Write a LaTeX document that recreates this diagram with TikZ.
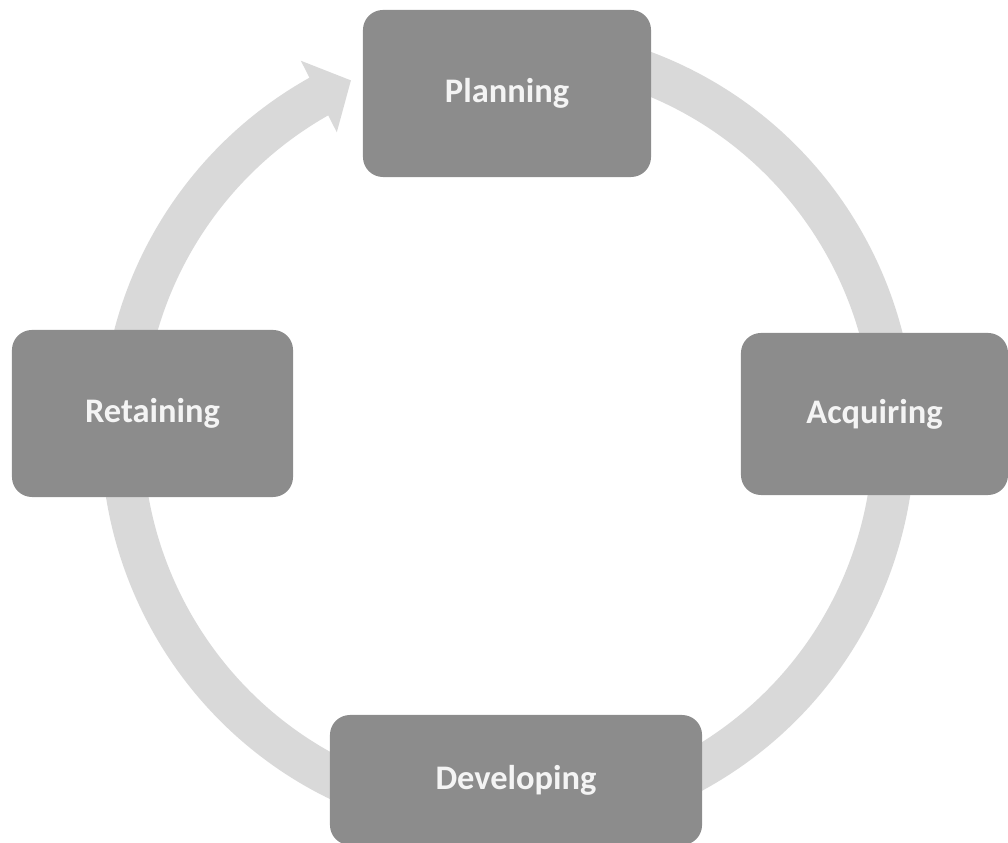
\documentclass[tikz,border=0pt]{standalone}
\usepackage{fontspec}
\setmainfont{Carlito}
\usetikzlibrary{arrows.meta,bending}
\definecolor{boxgray}{HTML}{8C8C8C}
\definecolor{ringgray}{HTML}{D9D9D9}
\definecolor{labelwhite}{HTML}{F4F4F4}
\tikzset{
    stage/.style = {
        rectangle,
        rounded corners = 0.5cm,
        fill = boxgray,
        text = labelwhite,
        inner sep = 0pt,
        font = \fontsize{24.5}{29}\selectfont\bfseries,
        },
    ring/.style = {
        draw = ringgray,
        line width = 1.05cm,
        },
}

\begin{document}
\begin{tikzpicture}
            [
                x = 0.025cm,
                y = 0.025cm,
                StageBox/.style={stage, minimum width=7.2cm, minimum height=4.175cm},
            ]

            \useasboundingbox (0,0) rectangle (1008,843);

            \coordinate (hub) at (508,410);

            % the cycle arrow, tail hidden under Planning
            \draw[ring, -{Triangle[width=1.95cm, length=0.9cm]}]
                (hub) ++(75:386) arc[start angle=75, end angle=-246, radius=386];

            \node [StageBox] (plan) at (507,749.5) {Planning};
            \node [StageBox, minimum width=7.025cm] (retain) at (152.5,429.5) {Retaining};
            \node [StageBox, minimum width=6.675cm, minimum height=4.05cm] (acquire) at (874.5,429) {Acquiring};
            \node [StageBox, minimum width=9.3cm, minimum height=3.25cm] (develop) at (516,63) {Developing};
        \end{tikzpicture}
\end{document}
